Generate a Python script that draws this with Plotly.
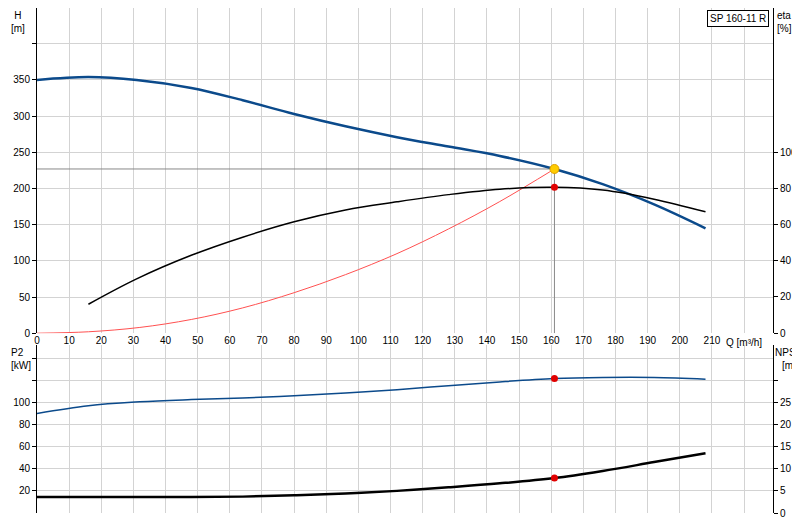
import plotly.graph_objects as go

q_h = [0, 16, 31, 48, 64, 80, 96, 112, 128, 144, 161, 176, 192, 208]
h_m = [350, 354, 350, 339, 322, 303, 286, 271, 258, 245, 227, 206, 178, 145]
q_eta = [16, 31, 48, 64, 80, 96, 112, 128, 144, 161, 176, 192, 208]
eta = [16, 30, 43, 53, 61.5, 68, 72.5, 76.5, 79.5, 80.5, 79, 74, 67]
q_sys = [0, 16, 32, 48, 64, 80, 96, 112, 128, 144, 161]
h_sys = [0, 2, 8, 19, 35, 56, 81, 110, 144, 182, 227]
q_p = [0, 16, 32, 48, 64, 80, 96, 112, 128, 144, 161, 176, 192, 208]
p2 = [90, 97, 100.5, 102.5, 104, 106, 108.5, 111.5, 115, 118.5, 121.5, 122.5, 122.5, 121]
npsh = [3.6, 3.6, 3.6, 3.6, 3.7, 4.0, 4.4, 5.0, 5.8, 6.7, 7.9, 9.5, 11.5, 13.5]
q_op, h_op, eta_op, p_op, npsh_op = 161, 227, 80.5, 121.5, 7.9
x_ticks = list(range(0, 221, 10))
x_labels = [str(v) for v in range(0, 211, 10)] + [""]

fig = go.Figure()
blue = "#0b4a8b"
fig.add_trace(go.Scatter(x=[0, q_op, q_op], y=[h_op, h_op, 0], mode="lines", line=dict(color="#888", width=1), xaxis="x", yaxis="y"))
fig.add_trace(go.Scatter(x=q_h, y=h_m, mode="lines", line=dict(color=blue, width=2.5, shape="spline"), xaxis="x", yaxis="y"))
fig.add_trace(go.Scatter(x=q_sys, y=h_sys, mode="lines", line=dict(color="#ff5050", width=1, shape="spline"), xaxis="x", yaxis="y"))
fig.add_trace(go.Scatter(x=[q_op], y=[h_op], mode="markers", marker=dict(color="#ffcc00", size=9, line=dict(color="#e0a000", width=1)), xaxis="x", yaxis="y"))
fig.add_trace(go.Scatter(x=q_eta, y=eta, mode="lines", line=dict(color="black", width=1.5, shape="spline"), xaxis="x", yaxis="y2"))
fig.add_trace(go.Scatter(x=[q_op], y=[eta_op], mode="markers", marker=dict(color="#e00000", size=7), xaxis="x", yaxis="y2"))
fig.add_trace(go.Scatter(x=q_p, y=p2, mode="lines", line=dict(color=blue, width=1.5, shape="spline"), xaxis="x2", yaxis="y3"))
fig.add_trace(go.Scatter(x=[q_op], y=[p_op], mode="markers", marker=dict(color="#e00000", size=7), xaxis="x2", yaxis="y3"))
fig.add_trace(go.Scatter(x=q_p, y=npsh, mode="lines", line=dict(color="black", width=2.5, shape="spline"), xaxis="x2", yaxis="y4"))
fig.add_trace(go.Scatter(x=[q_op], y=[npsh_op], mode="markers", marker=dict(color="#e00000", size=7), xaxis="x2", yaxis="y4"))

grid = "#d3d3d3"
tf = dict(family="Arial, Liberation Sans", size=10, color="black")
axbase = dict(showgrid=True, gridcolor=grid, zeroline=False, tickfont=tf, showline=True, linecolor="black",
              ticks="outside", ticklen=4, tickcolor="black", automargin=False)
fig.update_layout(
    width=800, height=520, showlegend=False, plot_bgcolor="white", paper_bgcolor="white",
    margin=dict(l=29, r=35, t=0, b=15),
    xaxis=dict(axbase, domain=[0, 1], range=[0, 229], tickmode="array", tickvals=x_ticks, ticktext=x_labels, anchor="y", showline=False, ticks=""),
    yaxis=dict(axbase, domain=[0.356, 1], range=[0, 449.5], tickmode="array", tickvals=[0, 50, 100, 150, 200, 250, 300, 350, 400], ticktext=["0", "50", "100", "150", "200", "250", "300", "350", ""]),
    yaxis2=dict(axbase, overlaying="y", side="right", range=[0, 179.5], tickmode="array", tickvals=[0, 20, 40, 60, 80, 100], showgrid=False, anchor="x"),
    xaxis2=dict(axbase, domain=[0, 1], range=[0, 229], tickmode="array", tickvals=x_ticks, anchor="y3", showticklabels=False, showline=False, ticks=""),
    yaxis3=dict(axbase, domain=[0, 0.333], range=[0, 152], tickmode="array", tickvals=[20, 40, 60, 80, 100, 120, 140], ticktext=["20", "40", "60", "80", "100", "", ""]),
    yaxis4=dict(axbase, overlaying="y3", side="right", range=[0, 38], tickmode="array", tickvals=[0, 5, 10, 15, 20, 25, 30], ticktext=["0", "5", "10", "15", "20", "25", ""], showgrid=False, anchor="x2"),
    annotations=[
        dict(text="H<br>[m]", x=0, xref="paper", xanchor="right", xshift=-10, y=1, yref="paper", yanchor="top", showarrow=False, font=tf, align="center"),
        dict(text="eta<br>[%]", x=1, xref="paper", xanchor="left", xshift=2, y=1, yref="paper", yanchor="top", showarrow=False, font=tf, align="left"),
        dict(text="Q [m³/h]", x=220, xref="x", y=0, yref="y", yanchor="top", yshift=-2, showarrow=False, font=tf),
        dict(text="P2<br>[kW]", x=0, xref="paper", xanchor="right", xshift=-4, y=0.333, yref="paper", yanchor="top", showarrow=False, font=tf, align="left"),
        dict(text="NPSH<br>[m]", x=1, xref="paper", xanchor="left", xshift=0, y=0.333, yref="paper", yanchor="top", showarrow=False, font=tf, align="center"),
        dict(text="SP 160-11 R", x=1, xref="paper", xanchor="right", xshift=-4, y=1, yref="paper", yanchor="top", yshift=-2, showarrow=False, font=tf, bordercolor="black", borderwidth=1, bgcolor="white", borderpad=2),
    ],
)
fig.write_html("out.html")
